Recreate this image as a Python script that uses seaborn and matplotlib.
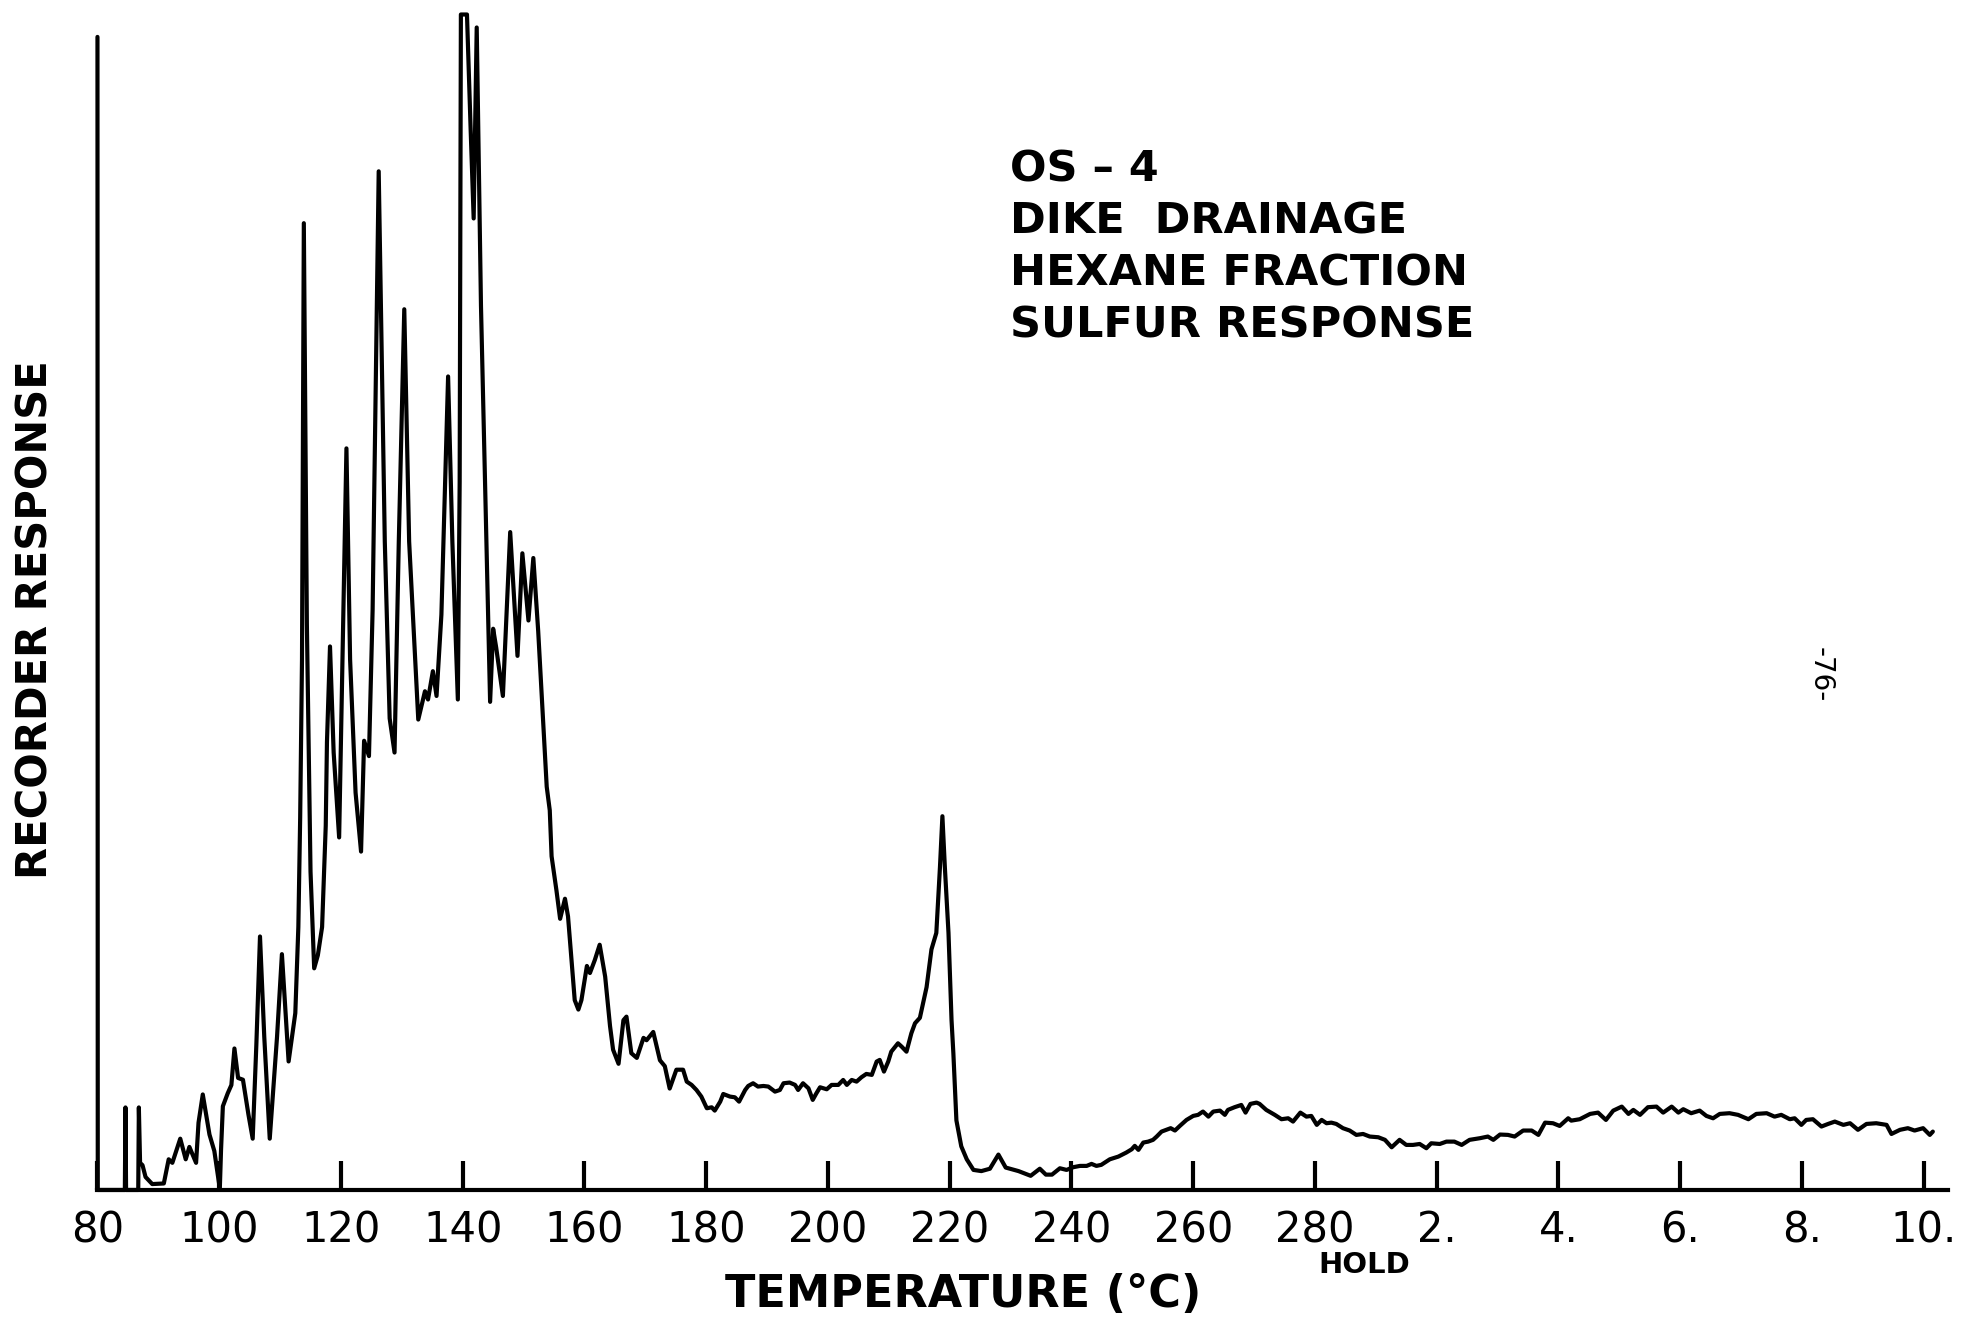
import pandas as pd
import seaborn as sns
import matplotlib.pyplot as plt

# temperature program part, x = temperature (C)
temp_c = [80, 80.05, 84.5, 84.6, 84.7, 86.7, 86.8, 87.0, 87.4, 87.9, 89.0, 90.9,
          91.7, 92.3, 93.6, 94.5, 95.1, 96.2, 96.6, 97.3, 98.4, 99.2, 100.1, 100.3,
          100.6, 101.4, 102.0, 102.5, 103.1, 103.9, 104.8, 105.5, 106.1, 106.7, 107.4,
          108.3, 109.5, 110.3, 111.4, 112.5, 113.0, 113.3, 113.6, 113.9, 114.4, 115.0,
          115.6, 116.2, 116.9, 117.5, 117.7, 118.2, 118.8, 119.7, 120.9, 121.5, 122.4,
          123.3, 123.8, 124.6, 125.2, 126.2, 127.2, 128.0, 128.8, 129.5, 130.4, 131.2,
          132.7, 133.8, 134.3, 135.1, 135.7, 136.5, 137.6, 138.3, 139.2, 139.5, 139.7,
          140.7, 141.3, 141.8, 142.3, 143.0, 144.5, 145.0, 145.5, 146.6, 147.8, 149.0,
          149.8, 150.8, 151.6, 152.4, 153.8, 154.3, 154.6, 155.4, 156.0, 156.8, 157.3,
          158.4, 159.0, 159.5, 160.4, 160.9, 161.7, 162.5, 163.4, 164.2, 164.7, 165.6,
          166.4, 166.9, 167.7, 168.6, 169.7, 170.2, 171.3, 172.4, 173.2, 174.0, 175.1,
          175.7, 176.2, 176.8, 177.6, 178.4, 179.2, 180.1, 180.9, 181.4, 182.3, 182.8,
          183.9, 184.7, 185.4, 186.4, 186.9, 187.7, 188.5, 189.4, 190.2, 191.3, 192.1,
          192.7, 193.7, 194.6, 195.1, 195.9, 196.8, 197.5, 198.1, 198.7, 199.8, 200.6,
          201.7, 202.5, 203.1, 203.9, 204.7, 205.5, 206.3, 207.2, 208.0, 208.5, 209.2,
          209.9, 210.4, 211.5, 212.1, 212.9, 213.7, 214.3, 215.1, 216.2, 217.0, 217.8,
          218.4, 218.8, 219.2, 219.8, 220.3, 220.6, 221.1, 221.9, 222.8, 223.9, 225.2,
          226.6, 228.0, 229.2, 231.3, 233.3, 234.8, 235.8, 236.8, 238.1, 239.2, 240.3,
          241.4, 242.5, 243.3, 244.1, 244.9, 246.3, 247.7, 249.0, 249.9, 250.4, 251.0,
          251.8, 252.6, 253.4, 254.0, 254.8, 255.6, 256.3, 257.0, 257.8, 258.9, 260.0,
          260.8, 261.6, 262.5, 263.3, 264.4, 265.2, 265.7, 266.8, 267.9, 268.6, 269.4,
          270.4, 270.9, 272.0, 273.4, 274.5, 275.6, 276.4, 277.6, 278.6, 279.4]
resp_temp = [97.8, 0, 0, 7.0, 0, 0, 7.0, 2.3, 2.1, 1.1, 0.5, 0.55,
             2.6, 2.3, 4.35, 2.6, 3.65, 2.3, 5.7, 8.1, 4.7, 3.3, 0.1, 3.4,
             7.1, 8.2, 8.9, 12.0, 9.5, 9.35, 6.4, 4.35, 12.3, 21.5, 13.0,
             4.35, 13.0, 20.0, 10.9, 15.0, 22.3, 31.6, 45.0, 82.0, 48.0, 27.0,
             18.8, 19.9, 22.3, 30.9, 38.0, 46.1, 37.1, 29.9, 62.9, 45.0, 33.7,
             28.7, 38.1, 36.8, 49.2, 86.4, 55.0, 40.0, 37.1, 55.0, 74.7, 55.0,
             39.9, 42.3, 41.6, 44.0, 41.9, 48.8, 69.0, 55.0, 41.6, 60.0, 99.7,
             99.7, 90.0, 82.4, 98.6, 75.0, 41.4, 47.6, 46.0, 41.9, 55.8, 45.3,
             54.0, 48.3, 53.6, 47.4, 34.2, 32.2, 28.3, 25.4, 23.0, 24.7, 23.2,
             16.1, 15.3, 16.1, 19.0, 18.4, 19.5, 20.8, 18.1, 13.9, 11.9, 10.7,
             14.4, 14.7, 11.6, 11.2, 12.9, 12.7, 13.4, 11.0, 10.5, 8.6, 10.2,
             10.2, 10.2, 9.19, 8.91, 8.48, 7.92, 6.93, 7.01, 6.73, 7.49, 8.14,
             7.92, 7.86, 7.49, 8.48, 8.82, 9.05, 8.77, 8.82, 8.77, 8.34, 8.48,
             9.05, 9.11, 8.91, 8.48, 9.05, 8.62, 7.64, 8.2, 8.71, 8.54, 8.91,
             8.91, 9.33, 8.91, 9.33, 9.19, 9.56, 9.84, 9.76, 10.89, 11.03, 10.04,
             10.89, 11.73, 12.44, 12.16, 11.73, 13.29, 14.14, 14.6, 17.2, 20.4, 21.8,
             27.4, 31.7, 27.4, 21.8, 14.4, 11.6, 5.9, 3.7, 2.6, 1.7, 1.6,
             1.8, 3.0, 1.9, 1.6, 1.2, 1.8, 1.3, 1.3, 1.84, 1.7, 1.93,
             2.04, 2.04, 2.21, 2.04, 2.13, 2.6, 2.83, 3.17, 3.45, 3.74, 3.4,
             4.02, 4.1, 4.25, 4.53, 4.95, 5.1, 5.24, 5.04, 5.43, 5.94, 6.28,
             6.37, 6.65, 6.22, 6.65, 6.73, 6.37, 6.79, 7.02, 7.21, 6.56, 7.3,
             7.41, 7.3, 6.79, 6.37, 6.0, 6.08, 5.8, 6.56, 6.22, 6.28]

# isothermal hold at 280 C, x = minutes
hold_min = [0.03, 0.11, 0.19, 0.27, 0.35, 0.46, 0.57, 0.68, 0.79, 0.90, 1.04, 1.15,
            1.26, 1.39, 1.50, 1.61, 1.72, 1.83, 1.91, 2.05, 2.16, 2.29, 2.41, 2.54,
            2.71, 2.84, 2.93, 3.04, 3.17, 3.28, 3.42, 3.56, 3.67, 3.78, 3.91, 4.02,
            4.16, 4.21, 4.35, 4.52, 4.65, 4.78, 4.90, 5.04, 5.15, 5.23, 5.34, 5.47,
            5.61, 5.72, 5.86, 5.97, 6.05, 6.18, 6.32, 6.43, 6.54, 6.65, 6.81, 6.95,
            7.12, 7.25, 7.42, 7.55, 7.66, 7.80, 7.88, 7.99, 8.07, 8.18, 8.32, 8.43,
            8.54, 8.68, 8.79, 8.92, 9.06, 9.22, 9.39, 9.47, 9.61, 9.74, 9.85, 9.99,
            10.10, 10.15]
resp_hold = [5.52, 5.94, 5.66, 5.71, 5.6, 5.24, 5.04, 4.67, 4.75, 4.53, 4.47, 4.25,
             3.62, 4.25, 3.82, 3.82, 3.9, 3.54, 3.96, 3.9, 4.1, 4.1, 3.82, 4.25,
             4.39, 4.53, 4.25, 4.7, 4.67, 4.53, 5.04, 5.04, 4.67, 5.71, 5.66, 5.43,
             6.08, 5.88, 6.0, 6.45, 6.56, 5.94, 6.73, 7.07, 6.45, 6.79, 6.37, 7.02,
             7.07, 6.56, 7.07, 6.56, 6.85, 6.51, 6.73, 6.28, 6.08, 6.45, 6.51, 6.37,
             6.0, 6.45, 6.51, 6.22, 6.37, 6.0, 6.08, 5.52, 5.94, 6.0, 5.38, 5.6,
             5.8, 5.52, 5.66, 5.1, 5.6, 5.66, 5.52, 4.75, 5.1, 5.24, 5.04, 5.24,
             4.67, 4.95]

tick_pos = [80, 100, 120, 140, 160, 180, 200, 220, 240, 260, 280, 300, 320, 340, 360, 380]
tick_labels = ["80", "100", "120", "140", "160", "180", "200", "220", "240", "260", "280",
               "2.", "4.", "6.", "8.", "10."]

# one continuous axis: hold minutes placed after 280 (20 units = 2 min)
df = pd.DataFrame({
    "pos": temp_c + [280 + 10 * m for m in hold_min],
    "resp": resp_temp + resp_hold,
})

sns.set_theme(style="white")
plt.rcParams["font.family"] = ["DejaVu Sans"]
plt.rcParams["text.color"] = "black"

fig = plt.figure(figsize=(19.61, 13.21), dpi=100)
ax = fig.add_axes([0.0497, 0.0992, 0.9437, 0.8925])

sns.lineplot(data=df, x="pos", y="resp", sort=False, estimator=None,
             color="black", linewidth=3.0, ax=ax)
ax.lines[0].set_clip_on(False)

ax.set_xlim(80, 384)
ax.set_ylim(0, 100)
for s in ["top", "right", "left"]:
    ax.spines[s].set_visible(False)
ax.spines["bottom"].set_linewidth(3)
ax.spines["bottom"].set_color("black")

ax.set_xticks(tick_pos)
ax.set_xticklabels(tick_labels)
ax.set_yticks([])
ax.tick_params(axis="x", direction="in", length=21, width=3, pad=14,
               labelsize=30, colors="black", bottom=True)
ax.set_xlabel("")
ax.set_ylabel("")

fig.text(0.491, 0.0204, "TEMPERATURE (°C)", ha="center", va="center",
         fontsize=32, weight="bold", color="black")
fig.text(0.018, 0.531, "RECORDER RESPONSE", ha="center", va="center",
         rotation=90, fontsize=30, weight="bold", color="black")
fig.text(0.6956, 0.0424, "HOLD", ha="center", va="center", fontsize=21,
         weight="bold", color="black")

notes = ["OS – 4", "DIKE  DRAINAGE", "HEXANE FRACTION", "SULFUR RESPONSE"]
for i, t in enumerate(notes):
    fig.text(0.515, 0.872 - i * 0.0395, t, ha="left", va="center",
             fontsize=31, weight="bold", color="black")

fig.text(0.9286, 0.489, "-76-", ha="center", va="center", rotation=270,
         fontsize=20, color="black")

fig.savefig("out.png", dpi=100, facecolor="white")
